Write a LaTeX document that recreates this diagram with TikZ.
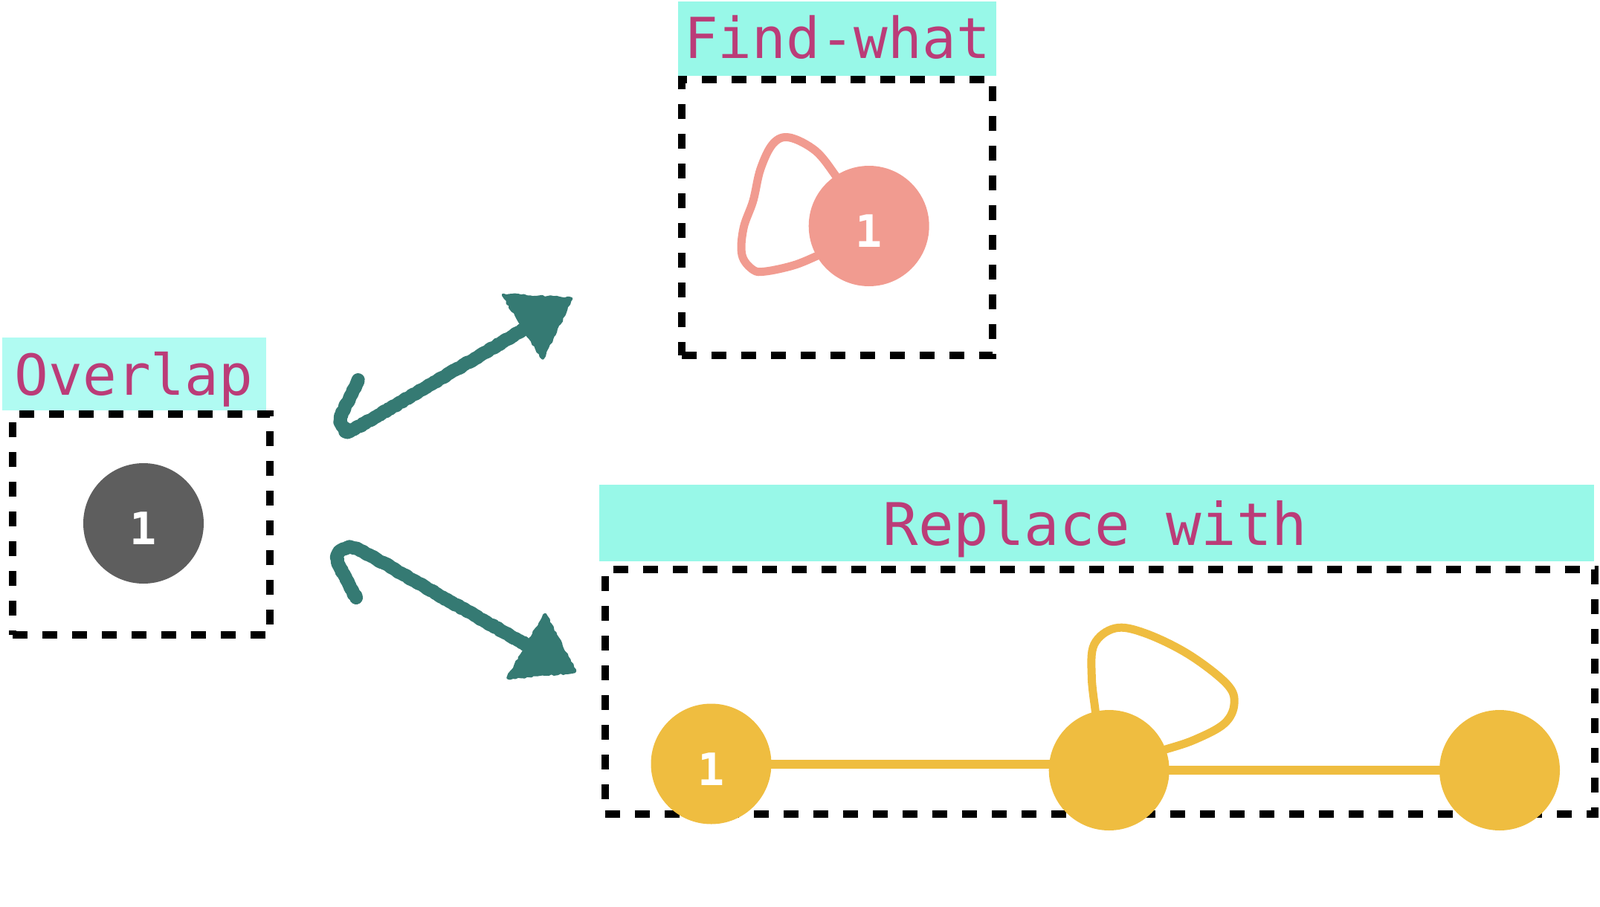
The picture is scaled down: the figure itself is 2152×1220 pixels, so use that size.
\documentclass[tikz,border=0pt]{standalone}
\usepackage{fontspec}
\newfontfamily\labfont{DejaVu Sans Mono}
\usetikzlibrary{decorations.pathmorphing,backgrounds}
\definecolor{cyanA}{HTML}{B0FBF2}
\definecolor{cyanB}{HTML}{98F8E8}
\definecolor{pinktxt}{HTML}{BB3C78}
\definecolor{graynode}{HTML}{5E5E5E}
\definecolor{salmonnode}{HTML}{F19B90}
\definecolor{goldnode}{HTML}{EFBD40}
\definecolor{chalkteal}{HTML}{357A73}
\begin{document}
\begin{tikzpicture}[x=1pt,y=-1pt,
  dashbox/.style={draw=black, line width=10pt, dash pattern=on 20pt off 20pt, inner sep=0pt, outer sep=0pt},
  labbox/.style={inner sep=0pt, outer sep=0pt, draw=none},
  ttl/.style={text=pinktxt, font=\labfont\fontsize{76}{80}\selectfont, anchor=base, inner sep=0pt},
  vtx/.style={circle, minimum size=162pt, inner sep=0pt, outer sep=0pt},
  num/.style={text=white, font=\labfont\bfseries\fontsize{60}{64}\selectfont, inner sep=0pt},
  chalk/.style={draw=chalkteal, line width=18pt, line cap=round, line join=round, decorate, decoration={random steps, segment length=3pt, amplitude=0.8pt}},
  chalkhead/.style={draw=chalkteal, fill=chalkteal, line width=4pt, line join=round, decorate, decoration={random steps, segment length=4pt, amplitude=1.2pt}},
  goldedge/.style={draw=goldnode, line width=12pt},
  goldloop/.style={draw=goldnode, line width=11pt},
  pinkloop/.style={draw=salmonnode, line width=11pt},
]
\useasboundingbox (0,0) rectangle (2152,1220);

% ---- Overlap ----
\node[labbox, fill=cyanA, minimum width=355pt, minimum height=98pt] (ovlab) at (180.5,503) {};
\node[dashbox, minimum width=346pt, minimum height=297pt] (ovbox) at (190,705.5) {};
\node[ttl] (ovtxt) at (180,531) {Overlap};
\node[vtx, fill=graynode] (g1) at (193,704) {};
\node[num] (g1n) at ([yshift=-7pt]g1.center) {1};

% ---- Find-what ----
\node[labbox, fill=cyanB, minimum width=428pt, minimum height=100pt] (fwlab) at (1126,52) {};
\node[dashbox, minimum width=418pt, minimum height=371pt] (fwbox) at (1126,292.5) {};
\node[ttl] (fwtxt) at (1126,79) {Find-what};
\node[vtx, fill=salmonnode] (p1) at (1168.7,304) {};
\node[num] (p1n) at ([yshift=-7pt]p1.center) {1};

% ---- Replace with ----
\node[labbox, fill=cyanB, minimum width=1338pt, minimum height=103pt] (rplab) at (1475,703.5) {};
\node[dashbox, minimum width=1331pt, minimum height=329pt] (rpbox) at (1479.5,930.5) {};
\node[ttl, font=\labfont\fontsize{79}{82}\selectfont] (rptxt) at (1473,733) {Replace with};
\node[vtx, fill=goldnode] (y1) at (956.5,1027.5) {};
\node[vtx, fill=goldnode] (y2) at (1491.7,1036) {};
\node[vtx, fill=goldnode] (y3) at (2017,1036) {};
\node[num] (y1n) at ([yshift=-7pt]y1.center) {1};

\begin{scope}[on background layer]
  \draw[pinkloop] plot[smooth, tension=0.6] coordinates {(1135,255) (1123,235) (1097,203) (1062,185) (1040,193) (1023,227) (1013,270) (1000,307) (998,343) (1013,363) (1030,365) (1067,357) (1097,345) (1118,335)};
  \draw[goldedge] (y1.center) -- (y1.center -| y2.center);
  \draw[goldedge] (y2.center) -- (y3.center);
  \draw[goldloop] plot[smooth, tension=0.6] coordinates {(1476,980) (1473.3,956.7) (1468.3,910) (1471.7,866.7) (1500,845) (1540,851.7) (1598.3,880) (1650,920) (1660,946.7) (1646.7,973.3) (1606.7,995) (1566.7,1008.3) (1545,1014)};
\end{scope}

% ---- chalk arrows ----
\coordinate (a1s) at (478,576);
\coordinate (a1e) at (715,437);
\draw[chalk] plot[smooth, tension=0.5] coordinates {(481,514) (470,536) (458,562) (463,575) (a1s) (600,505) (a1e)};
\filldraw[chalkhead] (676.7,396.7) -- (768.3,401.7) -- (730,481.7) -- cycle;

\coordinate (a2s) at (486,741);
\coordinate (a2e) at (725,877);
\draw[chalk] plot[smooth, tension=0.5] coordinates {(479,804) (466,780) (453,751) (462,739) (a2s) (600,806) (a2e)};
\filldraw[chalkhead] (733.3,826.7) -- (773.3,903.3) -- (683.3,911.7) -- cycle;
\end{tikzpicture}
\end{document}
